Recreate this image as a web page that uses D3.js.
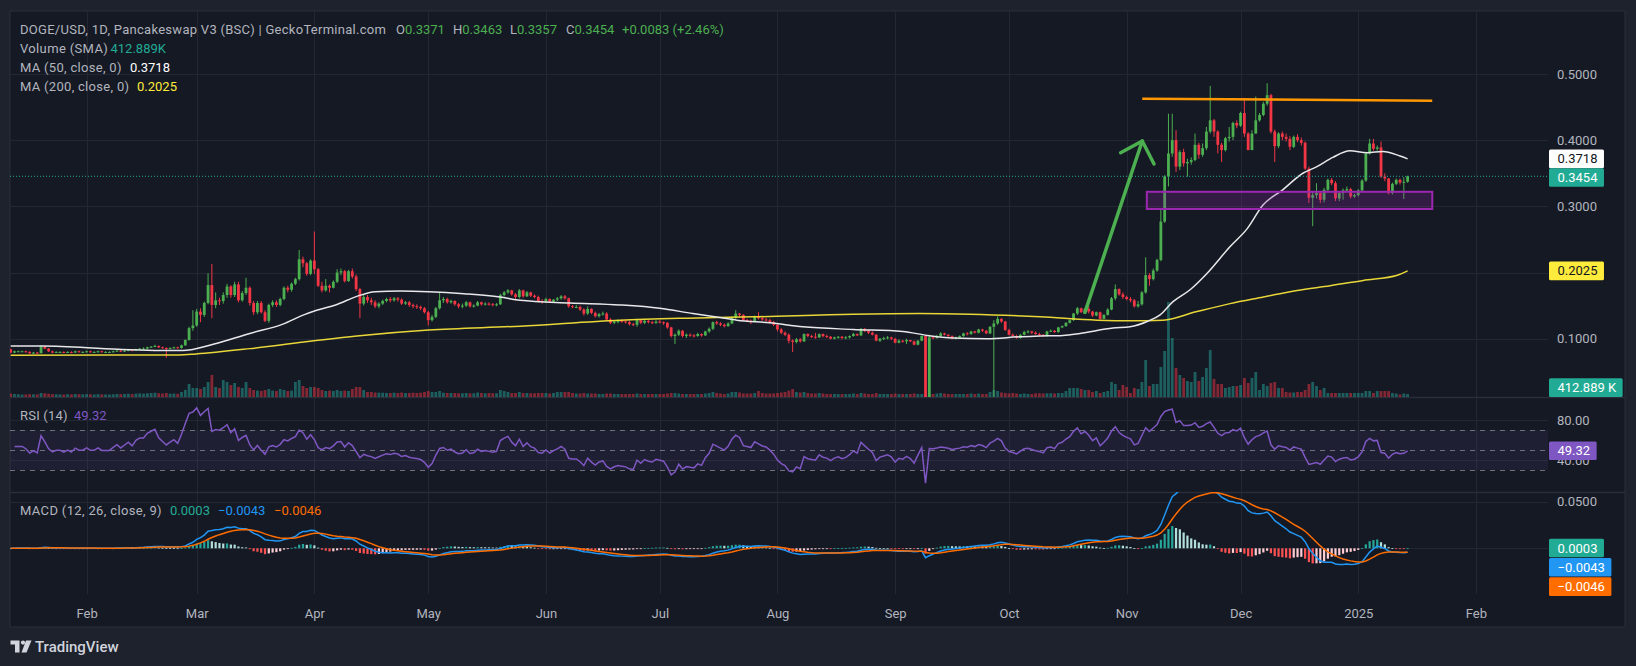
<!DOCTYPE html>
<html><head><meta charset="utf-8">
<script src="https://cdn.jsdelivr.net/npm/d3@7"></script>
<style>
html,body{margin:0;padding:0;background:#1e222d;overflow:hidden;}
svg{display:block;font-family:Roboto,"Noto Sans",sans-serif;}
</style></head><body>
<svg id="c" width="1636" height="666"></svg>
<script>
// ---------------- DATA ----------------
const startDay = "2024-01-12";   // first daily candle
const firstOpen = 0.084;
const close = [
.079,.081,.081,.081,.080,.078,.079,.078,.088,.085,
.081,.079,.080,.080,.079,.080,.079,.081,.080,.080,
.081,.080,.080,.081,.080,.080,.080,.081,.082,.081,
.082,.083,.082,.084,.085,.085,.087,.088,.089,.087,
.086,.085,.086,.087,.086,.090,.098,.116,.120,.141,
.136,.154,.181,.151,.158,.157,.166,.179,.166,.182,
.158,.169,.177,.154,.140,.154,.140,.127,.151,.155,
.151,.160,.177,.174,.183,.190,.220,.214,.198,.218,
.205,.180,.173,.180,.177,.186,.200,.202,.187,.202,
.194,.175,.153,.163,.158,.155,.149,.153,.157,.160,
.158,.161,.159,.153,.155,.151,.149,.148,.146,.140,
.128,.133,.146,.158,.160,.155,.157,.152,.149,.150,
.155,.149,.150,.155,.152,.153,.152,.151,.152,.166,
.170,.173,.167,.163,.173,.164,.170,.165,.163,.157,
.156,.160,.156,.159,.161,.164,.161,.149,.148,.148,
.144,.138,.145,.139,.134,.137,.138,.129,.124,.126,
.127,.126,.125,.122,.121,.128,.124,.127,.125,.124,
.126,.125,.124,.117,.104,.106,.112,.104,.106,.105,
.104,.107,.105,.111,.115,.125,.123,.121,.119,.123,
.132,.138,.136,.128,.127,.126,.133,.131,.129,.128,
.125,.121,.114,.109,.106,.097,.095,.099,.096,.107,
.104,.103,.102,.107,.104,.103,.100,.102,.103,.101,
.102,.104,.107,.105,.115,.112,.109,.106,.097,.100,
.101,.102,.100,.094,.097,.096,.098,.096,.091,.097,
.104,.004,.102,.101,.104,.108,.106,.104,.100,.102,
.104,.108,.107,.111,.109,.114,.112,.108,.118,.123,
.130,.126,.113,.106,.104,.101,.106,.110,.111,.109,
.107,.106,.104,.111,.112,.110,.117,.119,.124,.128,
.138,.146,.140,.145,.141,.135,.140,.130,.136,.144,
.161,.175,.167,.163,.160,.158,.149,.152,.170,.196,
.190,.203,.219,.277,.345,.380,.400,.360,.382,.365,
.367,.370,.393,.378,.388,.413,.430,.413,.393,.385,
.403,.405,.426,.422,.441,.410,.385,.410,.430,.438,
.455,.468,.413,.391,.410,.405,.402,.390,.405,.400,
.396,.357,.313,.317,.320,.310,.325,.340,.335,.312,
.320,.324,.326,.315,.317,.324,.339,.380,.395,.387,
.389,.345,.342,.320,.334,.340,.336,.3371,.3454];
const high = [
.085,.082,.082,.082,.082,.081,.080,.080,.090,.089,
.086,.082,.081,.081,.081,.081,.081,.082,.082,.081,
.082,.082,.081,.082,.082,.081,.081,.082,.083,.083,
.083,.084,.084,.085,.086,.087,.088,.089,.091,.090,
.088,.087,.087,.088,.088,.091,.099,.118,.143,.145,
.146,.156,.199,.213,.170,.162,.170,.183,.181,.186,
.186,.172,.192,.179,.157,.157,.157,.143,.153,.158,
.158,.162,.179,.180,.185,.192,.234,.224,.216,.220,
.262,.207,.186,.190,.182,.188,.205,.206,.204,.204,
.206,.197,.177,.166,.166,.162,.158,.155,.159,.162,
.163,.163,.163,.161,.157,.157,.153,.152,.150,.148,
.142,.136,.148,.169,.163,.162,.159,.158,.154,.153,
.157,.156,.152,.157,.156,.155,.155,.154,.154,.168,
.172,.175,.174,.169,.175,.174,.172,.171,.167,.165,
.160,.162,.161,.160,.163,.166,.166,.162,.151,.151,
.150,.146,.149,.146,.141,.139,.141,.140,.131,.128,
.129,.129,.128,.127,.124,.130,.129,.129,.128,.127,
.128,.128,.126,.125,.118,.108,.114,.113,.108,.108,
.107,.109,.108,.112,.117,.126,.127,.125,.123,.125,
.134,.143,.139,.137,.130,.129,.135,.140,.133,.131,
.130,.127,.122,.116,.111,.108,.099,.101,.101,.108,
.108,.106,.109,.108,.108,.106,.104,.103,.104,.104,
.104,.105,.109,.108,.116,.116,.113,.111,.107,.101,
.103,.104,.103,.101,.099,.098,.100,.098,.097,.098,
.105,.105,.106,.104,.106,.110,.109,.107,.105,.103,
.105,.109,.110,.112,.112,.115,.115,.113,.119,.128,
.134,.131,.127,.115,.108,.106,.107,.112,.113,.112,
.111,.109,.107,.112,.114,.113,.118,.120,.125,.129,
.139,.148,.147,.146,.149,.142,.141,.141,.137,.146,
.163,.182,.176,.170,.165,.163,.160,.157,.172,.223,
.199,.206,.221,.297,.347,.440,.440,.415,.385,.387,
.372,.374,.410,.396,.395,.420,.482,.432,.415,.396,
.405,.420,.428,.430,.443,.464,.412,.415,.466,.441,
.458,.486,.470,.416,.412,.413,.410,.406,.407,.409,
.404,.398,.360,.322,.335,.323,.328,.342,.343,.338,
.322,.327,.330,.328,.319,.326,.341,.382,.402,.402,
.392,.398,.350,.343,.336,.342,.342,.344,.3463];
const low = [
.078,.078,.080,.080,.079,.077,.077,.077,.078,.084,
.080,.078,.079,.079,.078,.079,.078,.079,.079,.079,
.079,.079,.079,.079,.079,.079,.079,.079,.080,.080,
.080,.081,.081,.082,.083,.084,.084,.086,.087,.086,
.085,.071,.084,.085,.085,.085,.089,.097,.112,.118,
.125,.133,.152,.131,.146,.151,.153,.162,.162,.163,
.155,.156,.166,.150,.136,.137,.138,.125,.124,.148,
.148,.149,.158,.170,.171,.181,.188,.208,.195,.196,
.198,.178,.170,.171,.170,.176,.184,.196,.185,.186,
.191,.172,.131,.150,.154,.151,.146,.146,.151,.155,
.155,.156,.156,.151,.151,.148,.146,.145,.143,.138,
.120,.126,.131,.144,.154,.153,.153,.150,.146,.146,
.148,.147,.147,.149,.150,.150,.150,.149,.149,.151,
.164,.168,.165,.160,.161,.162,.163,.163,.161,.155,
.153,.154,.154,.154,.157,.159,.159,.147,.146,.146,
.142,.135,.136,.137,.132,.132,.135,.127,.122,.122,
.123,.124,.123,.120,.119,.118,.122,.122,.123,.122,
.122,.123,.121,.115,.102,.092,.104,.102,.101,.103,
.102,.103,.103,.104,.109,.113,.121,.119,.117,.118,
.122,.130,.133,.127,.125,.122,.125,.129,.127,.126,
.123,.119,.111,.107,.104,.093,.080,.093,.094,.095,
.102,.101,.100,.101,.102,.101,.099,.099,.100,.099,
.099,.100,.103,.104,.104,.110,.107,.105,.096,.095,
.098,.099,.098,.093,.093,.094,.092,.095,.090,.090,
.096,.003,.003,.099,.100,.103,.105,.103,.099,.099,
.101,.103,.105,.106,.108,.108,.110,.107,.107,.005,
.121,.124,.112,.105,.102,.100,.100,.105,.108,.107,
.106,.104,.103,.103,.110,.109,.109,.116,.118,.123,
.127,.136,.139,.139,.138,.133,.134,.129,.130,.135,
.143,.158,.165,.160,.158,.155,.147,.147,.150,.168,
.180,.188,.201,.217,.275,.330,.375,.352,.355,.360,
.345,.363,.368,.372,.375,.385,.410,.405,.380,.367,
.383,.398,.400,.418,.420,.405,.385,.400,.410,.428,
.436,.452,.410,.367,.388,.400,.398,.385,.388,.397,
.392,.355,.305,.270,.312,.305,.306,.322,.332,.308,
.308,.310,.322,.312,.313,.315,.322,.337,.378,.384,
.384,.343,.338,.318,.318,.332,.333,.311,.3357];
// volume, thousands
const volume = [
480,420,380,350,360,400,380,370,560,520,
450,400,380,360,350,380,370,420,390,380,
400,380,360,390,370,360,350,380,420,400,
420,450,400,480,500,460,520,560,600,520,
480,560,460,480,450,700,1000,1820,1260,1260,
1120,1400,2100,3080,1400,1260,2380,2100,1680,1960,
1400,1260,2100,1260,980,900,840,980,1120,900,
840,1120,980,840,900,2100,2380,1540,1260,1400,
1400,1260,980,840,900,840,980,840,900,840,
1120,1400,1400,980,700,700,630,600,600,560,
560,600,560,630,560,560,600,560,600,700,
840,700,700,840,600,560,560,560,520,520,
560,520,520,630,560,520,560,520,520,980,
840,700,560,560,700,560,560,520,520,560,
560,560,490,560,700,700,700,700,560,490,
490,560,490,490,490,420,420,490,490,420,
420,420,420,420,420,490,420,420,420,420,
420,420,420,490,560,560,490,420,420,420,
420,420,420,490,560,700,560,490,420,490,
700,700,630,490,490,490,560,840,560,490,
490,490,560,630,700,900,1120,700,630,700,
560,490,490,560,490,420,420,420,420,420,
420,420,490,420,560,490,420,420,560,420,
420,420,420,490,420,420,420,420,490,420,
420,420,420,420,490,560,490,420,420,420,
420,420,420,490,420,490,420,420,700,980,
840,630,560,490,560,490,420,490,420,420,
520,520,490,520,520,490,560,560,840,1260,
1260,1260,1120,980,980,700,840,560,700,840,
2100,1820,980,1680,1400,560,1260,1120,2100,5180,
1540,1820,1820,4200,6440,13300,8260,4060,3080,2660,
2240,2100,3500,2240,2800,4060,6580,2520,1820,1820,
1260,1400,1540,1540,1680,2660,1960,2660,3500,980,
1820,1540,1960,2100,1260,1260,700,630,630,700,
700,980,1820,2100,1540,980,1260,560,560,560,
560,560,560,560,560,560,560,840,840,560,
840,840,840,840,560,490,350,490,412.889];
// moving averages: [day index], value
const ma50Day = [0,8.5,28.3,44.2,47,53.6,63,71.7,77.2,80.6,85.6,91.2,96,102.6,110.1,119.4,128.9,134.2,147.4,160.5,171,179.7,186.9,191.3,200,208.7,221.9,235,241.4,248.3,257.2,265.9,271.2,277.2,281.7,290.4,294.9,299.4,302.8,306.2,310.7,315.2,321.2,325.7,329.9,335.1,340.4,344.1,348.3,352.8,357.3,361.5,366,368];
const ma50    = [.089,.089,.084,.082,.083,.092,.108,.122,.136,.143,.151,.164,.171,.172,.171,.168,.163,.158,.154,.151,.146,.138,.132,.128,.124,.118,.114,.111,.105,.101,.100,.103,.104,.105,.108,.116,.118,.126,.136,.156,.174,.199,.239,.266,.302,.325,.350,.360,.374,.384,.381,.383,.376,.3718];
const ma200Day = [0,44.2,48.8,63,77.2,91.2,110.1,134.2,160.5,178.2,195.6,221.9,239.5,252.7,271.2,286.2,294.9,303.6,312.5,321.2,330,338.9,347.6,356.3,365.3,368];
const ma200    = [.075,.0755,.077,.085,.095,.104,.113,.119,.128,.131,.133,.137,.138,.137,.133,.128,.127,.128,.141,.153,.163,.173,.180,.188,.196,.2025];
// drawings on the chart: [day index, price]
const resistance = [[298.1,.4627],[374.5,.4597]];
const arrowShaft = [[283.0,.1397],[298.1,.3988]];
const arrowHead  = [[292.4,.381],[298.1,.3988],[301.2,.364]];
const supportZone = [[299.3,.322],[374.5,.296]];
// ticks / labels
const priceTicks = [0.1,0.2,0.3,0.4,0.5];
const rsiTicks = [80,40];
const rsiLevels = [70,50,30];
const macdTicks = [0,0.05];
const headerTitle = "DOGE/USD, 1D, Pancakeswap V3 (BSC) | GeckoTerminal.com";
const headerOHLC = [["O","0.3371"],["H","0.3463"],["L","0.3357"],["C","0.3454"]];
const headerChange = "+0.0083 (+2.46%)";
const lastVolume = "412.889K", lastVolumeAxis = "412.889 K";
const lastMA50 = 0.3718, lastMA200 = 0.2025, lastClose = 0.3454;
const lastRSI = 49.32;
const lastMACD = [["0.0003",0.0003,"#22ab94"],["\u22120.0043",-0.0043,"#2196f3"],["\u22120.0046",-0.0046,"#ff6d00"]];

// ---------------- LAYOUT ----------------
const L=10, R=1548, AX=1625, T=11, MB=397, RB=492, MCB=594, BB=627;
const DAY=86400000;
const t0 = Date.parse(startDay+"T00:00:00Z");
const n = close.length;
const dates = close.map((_,i)=>new Date(t0+i*DAY));
const open = close.map((c,i)=> i===0 ? firstOpen : close[i-1]);
const hi = high.map((h,i)=>Math.max(h,open[i],close[i]));
const lo = low.map((l,i)=>Math.min(l,open[i],close[i]));

const x = d3.scaleUtc().domain([dates[0],dates[n-1]]).range([10.68,1407.6]);
const dx = d => x(new Date(t0+d*DAY));
const y = d3.scaleLinear().domain([0.1,0.5]).range([338.7,74]);
const yV = d3.scaleLinear().domain([0,14000]).range([MB,MB-100]);
const yR = d3.scaleLinear().domain([0,100]).range([500,400]);
const yM = d3.scaleLinear().domain([0,0.05]).range([548.3,501.7]);

const UP="#4caf50", DN="#f23645", GRID="#232733", TXT="#b2b5be";
const svg = d3.select("#c");
const defs = svg.append("defs");
function clip(id,x0,y0,w,h){defs.append("clipPath").attr("id",id).append("rect").attr("x",x0).attr("y",y0).attr("width",w).attr("height",h);}
clip("cm",L,T,R-L,MB-T); clip("cr",L,MB,R-L,RB-MB); clip("cd",L,RB,R-L,MCB-RB);

// widget background
svg.append("rect").attr("x",L).attr("y",T).attr("width",AX-L).attr("height",BB-T).attr("fill","#151924").attr("stroke","#2a2e39");

// grid
const months = d3.utcMonth.range(new Date(Date.UTC(2024,1,1)), new Date(Date.UTC(2025,1,2)));
const grid = svg.append("g").attr("stroke",GRID).attr("stroke-width",1);
months.forEach(m=>{ const gx=Math.round(x(m))+0.5; grid.append("line").attr("x1",gx).attr("x2",gx).attr("y1",T).attr("y2",MCB);});
priceTicks.forEach(v=>{const gy=Math.round(y(v))+0.5; grid.append("line").attr("x1",L).attr("x2",R).attr("y1",gy).attr("y2",gy);});
rsiTicks.forEach(v=>{const gy=Math.round(yR(v))+0.5; grid.append("line").attr("x1",L).attr("x2",R).attr("y1",gy).attr("y2",gy);});
macdTicks.forEach(v=>{const gy=Math.round(yM(v))+0.5; grid.append("line").attr("x1",L).attr("x2",R).attr("y1",gy).attr("y2",gy);});
// pane separators
[MB,RB].forEach(py=>svg.append("line").attr("x1",L).attr("x2",AX).attr("y1",py+0.5).attr("y2",py+0.5).attr("stroke","#2a2e39").attr("stroke-width",1.5));

// ---------- main pane ----------
const gm = svg.append("g").attr("clip-path","url(#cm)");
const bw = 2.8;
gm.append("g").selectAll("rect").data(volume).join("rect")
  .attr("x",(v,i)=>x(dates[i])-bw/2).attr("width",bw)
  .attr("y",v=>yV(v)).attr("height",v=>MB-yV(v))
  .attr("fill",(v,i)=> close[i]>=open[i] ? "rgba(38,166,154,0.5)" : "rgba(242,54,69,0.5)");

const cg = gm.append("g");
cg.selectAll("line").data(close).join("line")
  .attr("x1",(c,i)=>x(dates[i])).attr("x2",(c,i)=>x(dates[i]))
  .attr("y1",(c,i)=>y(hi[i])).attr("y2",(c,i)=>y(lo[i]))
  .attr("stroke",(c,i)=>c>=open[i]?UP:DN).attr("stroke-width",1);
cg.selectAll("rect").data(close).join("rect")
  .attr("x",(c,i)=>x(dates[i])-bw/2).attr("width",bw)
  .attr("y",(c,i)=>y(Math.max(c,open[i])))
  .attr("height",(c,i)=>Math.max(1,Math.abs(y(c)-y(open[i]))))
  .attr("fill",(c,i)=>c>=open[i]?UP:DN);

const maLine = d3.line().x(d=>dx(d[0])).y(d=>y(d[1])).curve(d3.curveMonotoneX);
gm.append("path").attr("d",maLine(ma200Day.map((d,i)=>[d,ma200[i]]))).attr("fill","none").attr("stroke","#ffeb3b").attr("stroke-width",1.5).attr("opacity",0.9);
gm.append("path").attr("d",maLine(ma50Day.map((d,i)=>[d,ma50[i]]))).attr("fill","none").attr("stroke","#e8e8ea").attr("stroke-width",1.5);

// last price dotted line
gm.append("line").attr("x1",L).attr("x2",R).attr("y1",y(lastClose)).attr("y2",y(lastClose))
  .attr("stroke","#22ab94").attr("stroke-width",1).attr("stroke-dasharray","1,2");

// drawings
const pl = d3.line().x(d=>dx(d[0])).y(d=>y(d[1]));
gm.append("rect").attr("x",dx(supportZone[0][0])).attr("y",y(supportZone[0][1]))
  .attr("width",dx(supportZone[1][0])-dx(supportZone[0][0])).attr("height",y(supportZone[1][1])-y(supportZone[0][1]))
  .attr("fill","rgba(156,39,176,0.22)").attr("stroke","#9c27b0").attr("stroke-width",2);
gm.append("path").attr("d",pl(resistance)).attr("stroke","#ff9800").attr("stroke-width",2.5).attr("fill","none");
gm.append("path").attr("d",pl(arrowShaft)).attr("stroke","#4caf50").attr("stroke-width",3.5).attr("fill","none").attr("stroke-linecap","round");
gm.append("path").attr("d",pl(arrowHead)).attr("stroke","#4caf50").attr("stroke-width",3.5).attr("fill","none").attr("stroke-linecap","round").attr("stroke-linejoin","round");

// ---------- RSI ----------
const rsi = new Array(n).fill(null);
{
  const ch = close.slice(1,15).map((c,i)=>Math.abs(c-close[i]));
  let seed = d3.mean(ch)/2, ag=seed, al=seed;
  for(let i=1;i<n;i++){
    const c = close[i]-close[i-1];
    ag = (ag*13+Math.max(c,0))/14; al = (al*13+Math.max(-c,0))/14;
    rsi[i] = al===0?100:100-100/(1+ag/al);
  }
}
const gr = svg.append("g").attr("clip-path","url(#cr)");
gr.append("rect").attr("x",L).attr("width",R-L).attr("y",yR(70)).attr("height",yR(30)-yR(70)).attr("fill","rgba(126,87,194,0.1)");
rsiLevels.forEach(v=>gr.append("line").attr("x1",L).attr("x2",R).attr("y1",yR(v)+0.5).attr("y2",yR(v)+0.5)
  .attr("stroke","#787b86").attr("stroke-dasharray","5,5").attr("stroke-width",1).attr("opacity",0.9));
gr.append("path").attr("d",d3.line().defined(d=>d!=null).x((d,i)=>x(dates[i])).y(d=>yR(d))(rsi))
  .attr("fill","none").attr("stroke","#7e57c2").attr("stroke-width",1.5);

// ---------- MACD ----------
const ema=(a,p)=>{const k=2/(p+1);let e=a[0];return a.map((v,i)=>i===0?e:(e=v*k+e*(1-k)));};
const e12=ema(close,12), e26=ema(close,26);
const macd=close.map((_,i)=>e12[i]-e26[i]);
const sig=ema(macd,9);
const hist=macd.map((m,i)=>m-sig[i]);
const gd = svg.append("g").attr("clip-path","url(#cd)");
gd.append("g").selectAll("rect").data(hist).join("rect")
  .attr("x",(h,i)=>x(dates[i])-1.1).attr("width",2.2)
  .attr("y",h=>Math.min(yM(h),yM(0))).attr("height",h=>Math.max(0.8,Math.abs(yM(h)-yM(0))))
  .attr("fill",(h,i)=>{const p=i?hist[i-1]:h; return h>=0?(p<h?"#26a69a":"#b2dfdb"):(p<h?"#ffcdd2":"#ff5252");});
const ml = d3.line().x((d,i)=>x(dates[i])).y(d=>yM(d));
gd.append("path").attr("d",ml(macd)).attr("fill","none").attr("stroke","#2196f3").attr("stroke-width",1.5);
gd.append("path").attr("d",ml(sig)).attr("fill","none").attr("stroke","#ff6d00").attr("stroke-width",1.5);

// ---------- axes ----------
function styleAxis(g){g.select(".domain").remove();g.selectAll(".tick line").remove();g.selectAll("text").attr("fill",TXT).style("font-size","13px").style("font-family","Roboto,sans-serif");}
svg.append("g").attr("transform",`translate(${R},0)`).call(d3.axisRight(y).tickValues(priceTicks).tickFormat(d3.format(".4f")).tickSize(0).tickPadding(9)).call(styleAxis);
svg.append("g").attr("transform",`translate(${R},0)`).call(d3.axisRight(yR).tickValues(rsiTicks).tickFormat(d3.format(".2f")).tickSize(0).tickPadding(9)).call(styleAxis);
svg.append("g").attr("transform",`translate(${R},0)`).call(d3.axisRight(yM).tickValues(macdTicks).tickFormat(d3.format(".4f")).tickSize(0).tickPadding(9)).call(styleAxis);
svg.append("g").attr("transform",`translate(0,${MCB})`).call(d3.axisBottom(x).tickValues(months)
  .tickFormat(d=>d.getUTCMonth()===0?d3.utcFormat("%Y")(d):d3.utcFormat("%b")(d)).tickSize(0).tickPadding(15)).call(styleAxis);

// ---------- value labels on the axis ----------
const lg = svg.append("g").style("font-size","13px");
function tag(yc,text,bg,fg){
  const g=lg.append("g");
  const r=g.append("rect").attr("x",R+1).attr("y",yc-9.3).attr("height",18.6).attr("rx",1.5).attr("fill",bg);
  const t=g.append("text").attr("x",R+9.5).attr("y",yc).attr("dominant-baseline","central").attr("fill",fg).text(text);
  r.attr("width",t.node().getComputedTextLength()+15);
}
function stack(items,h){items.sort((a,b)=>a.y-b.y);for(let i=1;i<items.length;i++){if(items[i].y<items[i-1].y+h)items[i].y=items[i-1].y+h;}return items;}
stack([{y:y(lastMA50),t:d3.format(".4f")(lastMA50),bg:"#ffffff",fg:"#131722"},{y:y(lastClose),t:d3.format(".4f")(lastClose),bg:"#22ab94",fg:"#ffffff"}],18.6)
  .forEach(d=>tag(d.y,d.t,d.bg,d.fg));
tag(y(lastMA200),d3.format(".4f")(lastMA200),"#ffeb3b","#131722");
tag(Math.min(yV(412.889),MB-9.4),lastVolumeAxis,"#22ab94","#ffffff");
tag(yR(lastRSI),lastRSI.toFixed(2),"#7e57c2","#ffffff");
stack(lastMACD.map(d=>({y:yM(d[1]),t:d[0],bg:d[2]})),19.3).forEach(d=>tag(d.y,d.t,d.bg,"#ffffff"));

// ---------- legends ----------
const hg = svg.append("g").style("font-size","13px");
function txt(x0,yc,s,col,ls){
  const t=hg.append("text").attr("x",x0).attr("y",yc).attr("dominant-baseline","central").attr("fill",col||TXT).text(s);
  if(ls) t.style("letter-spacing",ls+"px");
  return t;
}
txt(20,29,headerTitle,TXT,0.28);
const ohlcX=[396,453,510,566];
headerOHLC.forEach((p,i)=>{const t=txt(ohlcX[i],29,p[0]); t.append("tspan").attr("fill","#4caf50").text(p[1]);});
txt(622,29,headerChange,"#4caf50");
txt(20,48,"Volume (SMA)",TXT,0.35); txt(110.5,48,lastVolume,"#22ab94");
txt(20,67,"MA (50, close, 0)",TXT,0.3); txt(130,67,d3.format(".4f")(lastMA50),"#ffffff");
txt(20,86,"MA (200, close, 0)",TXT,0.3); txt(137,86,d3.format(".4f")(lastMA200),"#ffeb3b");
txt(20,415.5,"RSI (14)",TXT,0.2); txt(74,415.5,lastRSI.toFixed(2),"#7e57c2");
txt(20,510.7,"MACD (12, 26, close, 9)",TXT,0.35);
[170,218,274].forEach((xx,i)=>txt(xx,510.7,lastMACD[i][0],lastMACD[i][2]));

// ---------- TradingView logo ----------
const lo2 = svg.append("g").attr("fill","#d1d4dc");
lo2.append("path").attr("d","M10.5,640.5 H19.5 V652.5 H15 V644.5 H10.5 Z");
lo2.append("circle").attr("cx",23).attr("cy",642.6).attr("r",2.1);
lo2.append("path").attr("d","M26,640.5 H31.5 L26.5,652.5 H21.5 Z");
lo2.append("text").attr("x",35).attr("y",646.5).attr("dominant-baseline","central").style("font-size","15px").style("font-weight","500").text("TradingView");
</script>
</body></html>
